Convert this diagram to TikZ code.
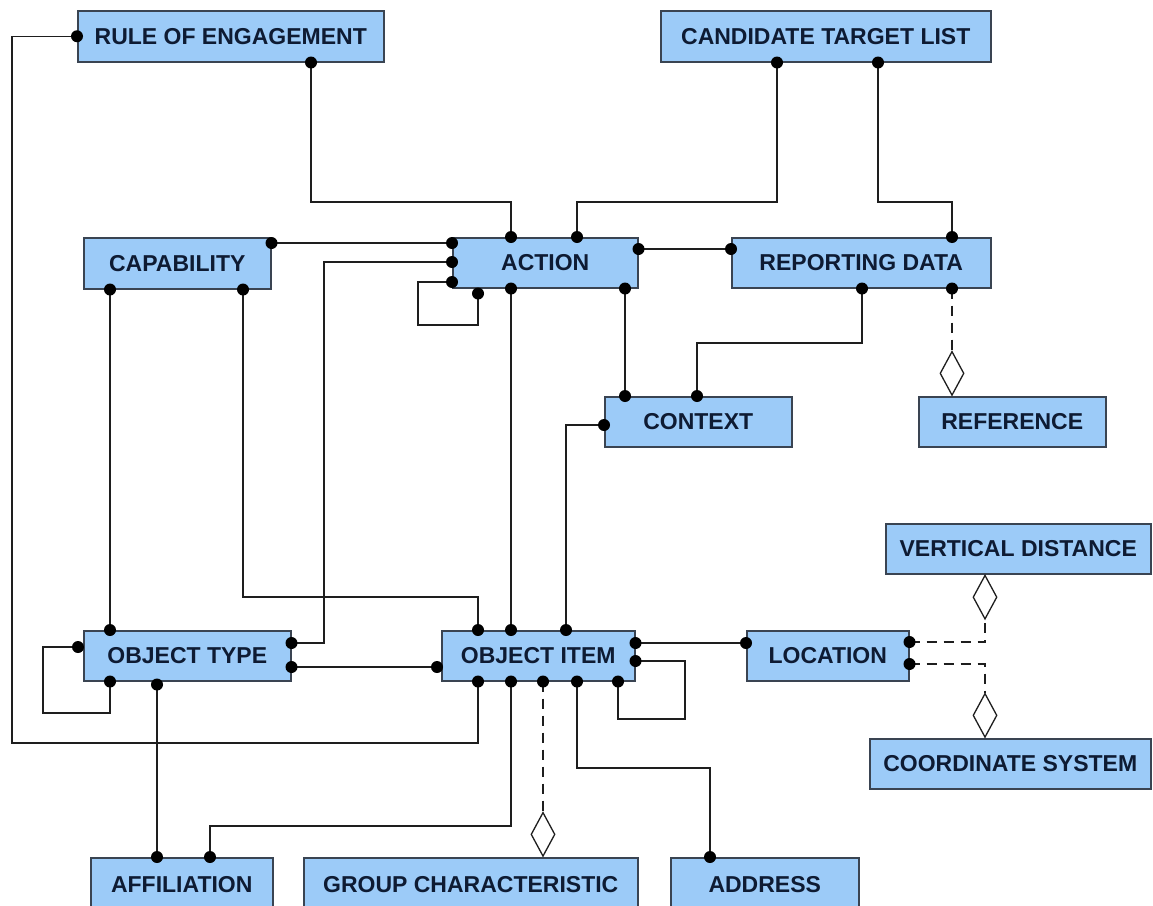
\documentclass[tikz,border=0pt]{standalone}
\usepackage{fontspec}
\setmainfont{Liberation Sans}
\usetikzlibrary{shapes.geometric}
\definecolor{boxfill}{HTML}{9CCBF8}
\definecolor{boxline}{HTML}{3A4452}
\definecolor{boxtext}{HTML}{0E1B33}
\definecolor{linec}{HTML}{1E1E1E}
\tikzset{
  ent/.style={draw=boxline, fill=boxfill, line width=1.5pt, anchor=north west,
    inner sep=0pt, text=boxtext, font=\fontsize{23}{27}\selectfont\bfseries},
  link/.style={draw=linec, line width=1.4pt},
  dep/.style={link, dash pattern=on 10pt off 7pt},
  agg/.style={diamond, draw=linec, fill=white, line width=1.3pt, inner sep=0pt,
    minimum width=24pt, minimum height=44pt},
  knob/.style={fill=black}
}
\newcommand{\knobat}[1]{\fill[knob] (#1) circle (6pt);}
\begin{document}
\begin{tikzpicture}[x=1pt,y=-1pt]
\useasboundingbox (0,0) rectangle (1153,905);
\begin{scope}
\clip (0,0) rectangle (1153,905);
% entities
\node[ent, minimum width=306, minimum height=51] (roe)  at (77,10)   {RULE OF ENGAGEMENT};
\node[ent, minimum width=330, minimum height=51] (ctl)  at (660,10)  {CANDIDATE TARGET LIST};
\node[ent, minimum width=187, minimum height=51] (cap)  at (83,237)  {CAPABILITY};
\node[ent, minimum width=185, minimum height=50] (act)  at (452,237) {ACTION};
\node[ent, minimum width=259, minimum height=50] (rd)   at (731,237) {REPORTING DATA};
\node[ent, minimum width=187, minimum height=50] (ctx)  at (604,396) {CONTEXT};
\node[ent, minimum width=187, minimum height=50] (ref)  at (918,396) {REFERENCE};
\node[ent, minimum width=265, minimum height=50] (vd)   at (885,523) {VERTICAL DISTANCE};
\node[ent, minimum width=207, minimum height=50] (ot)   at (83,630)  {OBJECT TYPE};
\node[ent, minimum width=193, minimum height=50] (oi)   at (441,630) {OBJECT ITEM};
\node[ent, minimum width=162, minimum height=50] (loc)  at (746,630) {LOCATION};
\node[ent, minimum width=281, minimum height=50] (cs)   at (869,738) {COORDINATE SYSTEM};
\node[ent, minimum width=182, minimum height=56] (aff)  at (90,857)  {\raisebox{3pt}{AFFILIATION}};
\node[ent, minimum width=334, minimum height=56] (gc)   at (303,857) {\raisebox{3pt}{GROUP CHARACTERISTIC}};
\node[ent, minimum width=188, minimum height=56] (addr) at (670,857) {\raisebox{3pt}{ADDRESS}};
% aggregation diamonds
\node[agg, anchor=south] (d1) at (952,0 |- ref.north) {};
\node[agg, anchor=north] (d2) at (985,0 |- vd.south) {};
\node[agg, anchor=south] (d3) at (543,0 |- gc.north) {};
\node[agg, anchor=south] (d4) at (985,0 |- cs.north) {};
% relationships
\draw[link] (roe.west) -- (12,0 |- roe.west) -- (12,743) -- (478,743) -- (478,0 |- oi.south);
\draw[link] (311,0 |- roe.south) -- (311,202) -| (511,0 |- act.north);
\draw[link] (777,0 |- ctl.south) -- (777,202) -| (577,0 |- act.north);
\draw[link] (878,0 |- ctl.south) -- (878,202) -| (952,0 |- rd.north);
\draw[link] (cap.east |- 0,243) -- (act.west |- 0,243);
\draw[link] (act.west |- 0,262) -- (324,262) -- (324,643) -- (ot.east |- 0,643);
\draw[link] (act.west |- 0,282) -- (418,282) -- (418,325) -| ([yshift=-5pt]act.south -| 478,0);
\draw[link] (511,0 |- act.south) -- (511,0 |- oi.north);
\draw[link] (act.east |- 0,249) -- (rd.west |- 0,249);
\draw[link] (625,0 |- act.south) -- (625,0 |- ctx.north);
\draw[link] (862,0 |- rd.south) -- (862,343) -| (697,0 |- ctx.north);
\draw[dep]  (952,0 |- rd.south) -- (d1.north);
\draw[link] (ctx.west |- 0,425) -- (566,425) -- (566,0 |- oi.north);
\draw[link] (110,0 |- cap.south) -- (110,0 |- ot.north);
\draw[link] (243,0 |- cap.south) -- (243,597) -| (478,0 |- oi.north);
\draw[link] ([xshift=-5pt]ot.west |- 0,647) -- (43,647) -- (43,713) -| (110,0 |- ot.south);
\draw[link] (ot.east |- 0,667) -- ([xshift=-4pt]oi.west |- 0,667);
\draw[link] ([yshift=-3pt]ot.south -| 157,0) -- (157,0 |- aff.north);
\draw[link] (511,0 |- oi.south) -- (511,826) -| (210,0 |- aff.north);
\draw[dep]  (543,0 |- oi.south) -- (d3.north);
\draw[link] (577,0 |- oi.south) -- (577,768) -| (710,0 |- addr.north);
\draw[link] (oi.east |- 0,661) -- (685,661) -- (685,719) -| (618,0 |- oi.south);
\draw[link] (oi.east |- 0,643) -- (loc.west |- 0,643);
\draw[dep]  (loc.east |- 0,642) -- (985,642) -- (d2.south);
\draw[dep]  (loc.east |- 0,664) -- (985,664) -- (d4.north);
% connection points
\knobat{roe.west}
\knobat{478,0 |- oi.south}
\knobat{311,0 |- roe.south}
\knobat{511,0 |- act.north}
\knobat{777,0 |- ctl.south}
\knobat{577,0 |- act.north}
\knobat{878,0 |- ctl.south}
\knobat{952,0 |- rd.north}
\knobat{cap.east |- 0,243}
\knobat{act.west |- 0,243}
\knobat{act.west |- 0,262}
\knobat{ot.east |- 0,643}
\knobat{act.west |- 0,282}
\knobat{[yshift=-5pt]act.south -| 478,0}
\knobat{511,0 |- act.south}
\knobat{511,0 |- oi.north}
\knobat{act.east |- 0,249}
\knobat{rd.west |- 0,249}
\knobat{625,0 |- act.south}
\knobat{625,0 |- ctx.north}
\knobat{862,0 |- rd.south}
\knobat{697,0 |- ctx.north}
\knobat{952,0 |- rd.south}
\knobat{ctx.west |- 0,425}
\knobat{566,0 |- oi.north}
\knobat{110,0 |- cap.south}
\knobat{110,0 |- ot.north}
\knobat{243,0 |- cap.south}
\knobat{478,0 |- oi.north}
\knobat{[xshift=-5pt]ot.west |- 0,647}
\knobat{110,0 |- ot.south}
\knobat{ot.east |- 0,667}
\knobat{[xshift=-4pt]oi.west |- 0,667}
\knobat{[yshift=-3pt]ot.south -| 157,0}
\knobat{157,0 |- aff.north}
\knobat{511,0 |- oi.south}
\knobat{210,0 |- aff.north}
\knobat{543,0 |- oi.south}
\knobat{577,0 |- oi.south}
\knobat{710,0 |- addr.north}
\knobat{oi.east |- 0,661}
\knobat{618,0 |- oi.south}
\knobat{oi.east |- 0,643}
\knobat{loc.west |- 0,643}
\knobat{loc.east |- 0,642}
\knobat{loc.east |- 0,664}
\end{scope}
\end{tikzpicture}
\end{document}
